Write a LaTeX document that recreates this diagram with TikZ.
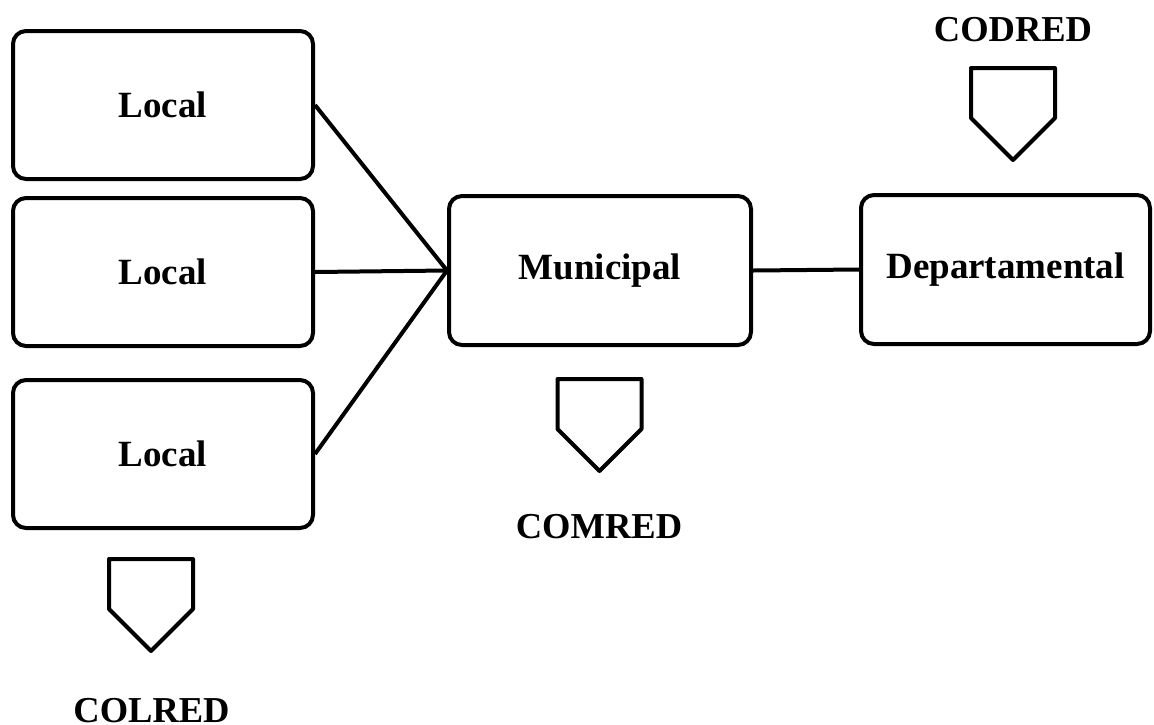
\documentclass[tikz,border=0pt]{standalone}
\usepackage{fontspec}
\setmainfont{Liberation Serif}
\begin{document}
\begin{tikzpicture}[x=1pt,y=-1pt,
  levelbox/.style={draw=black,line width=4pt,rounded corners=13pt,inner sep=0pt,
    minimum height=148pt,font=\fontsize{37}{40}\selectfont\bfseries},
  lbl/.style={anchor=base,inner sep=0pt,font=\fontsize{36.5}{40}\selectfont\bfseries},
  conn/.style={line width=4pt},
  pent/.style={line width=4pt,line join=round}]
\useasboundingbox (0,0) rectangle (1154,724);
\node[levelbox,minimum width=300pt] (l1) at (163,105) {Local};
\node[levelbox,minimum width=300pt] (l2) at (163,272) {Local};
\node[levelbox,minimum width=300pt] (l3) at (163,454) {Local};
\node[levelbox,minimum width=302pt,minimum height=149pt] (m) at (600,270.5) {Municipal};
\node[levelbox,minimum width=289pt,minimum height=149pt] (d) at (1005.5,269.5) {Departamental};
\draw[conn] (l1.east) -- (m.west);
\draw[conn] (l2.east) -- (m.west);
\draw[conn] (l3.east) -- (m.west);
\draw[conn] (m.east) -- (d.west);
% pentagons
\foreach \cx/\ty in {1013/68, 599.5/379, 151/559}{
  \draw[pent] (\cx-42,\ty) -- (\cx+42,\ty) -- (\cx+42,\ty+50) -- (\cx,\ty+92) -- (\cx-42,\ty+50) -- cycle;
}
\node[lbl] (codred) at (1013,41) {CODRED};
\node[lbl] (comred) at (599,538) {COMRED};
\node[lbl] (colred) at (151.5,722) {COLRED};
\end{tikzpicture}
\end{document}
